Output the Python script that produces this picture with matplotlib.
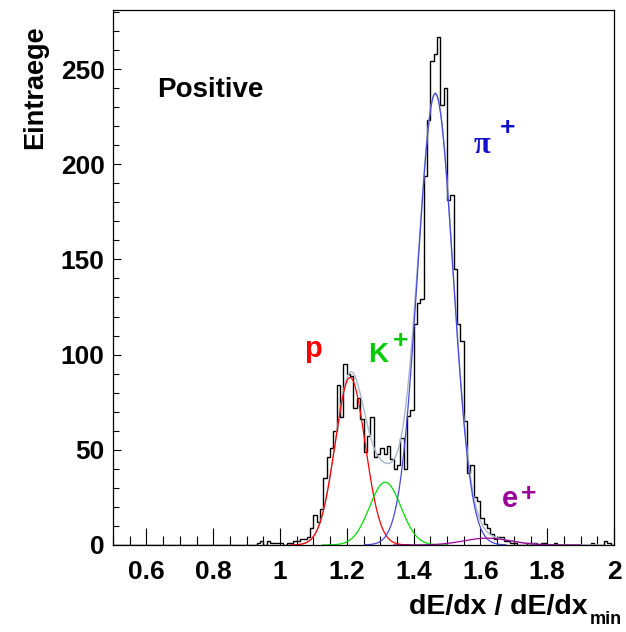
import numpy as np
import matplotlib
matplotlib.use('Agg')
import matplotlib.pyplot as plt
from matplotlib.ticker import MultipleLocator

# dE/dx spectrum of positive tracks, bins of 0.01 from 0.5 to 2.0
bin_lo = 0.5
bin_hi = 2.0
counts = [
    0, 0, 0, 0, 0, 0, 0, 0, 0, 0,          # 0.50
    0, 0, 0, 0, 0, 0, 0, 0, 0, 0,          # 0.60
    0, 0, 0, 0, 0, 0, 0, 0, 0, 0,          # 0.70
    0, 0, 0, 0, 0, 0, 0, 0, 0, 0,          # 0.80
    0, 0, 0, 1, 2, 0, 2, 1, 1, 1,          # 0.90
    1, 0, 1, 1, 2, 2, 3, 3, 4, 9,          # 1.00
    16, 12, 19, 35, 46, 51, 60, 84, 67, 95,    # 1.10
    90, 89, 72, 77, 66, 49, 57, 67, 46, 48,    # 1.20
    51, 48, 52, 45, 40, 42, 56, 40, 68, 71,    # 1.30
    116, 127, 129, 194, 223, 254, 258, 267, 231, 240,  # 1.40
    181, 184, 145, 116, 107, 65, 38, 42, 25, 23,   # 1.50
    14, 11, 9, 6, 3, 4, 4, 2, 2, 1,        # 1.60
    1, 0, 0, 0, 1, 1, 1, 0, 1, 1,          # 1.70
    0, 0, 1, 0, 0, 0, 0, 0, 0, 0,          # 1.80
    0, 0, 0, 1, 0, 0, 0, 2, 1, 0,          # 1.90
]

# gaussian fit components (p, K+, pi+, e+)
fit_names = ['p', 'K', 'pi', 'e']
fit_amp = [88, 33, 237, 3.6]
fit_mean = [1.21, 1.315, 1.465, 1.62]
fit_sigma = [0.045, 0.047, 0.053, 0.07]
fit_colors = ['#ff0000', '#00e000', '#4848dd', '#990099']
total_color = '#a8b8cc'

xticks = [0.6, 0.8, 1.0, 1.2, 1.4, 1.6, 1.8, 2.0]
xtick_labels = ['0.6', '0.8', '1', '1.2', '1.4', '1.6', '1.8', '2']
yticks = [0, 50, 100, 150, 200, 250]


def gaus(x, a, m, s):
    return a * np.exp(-0.5 * ((x - m) / s) ** 2)


plt.rcParams['font.family'] = ['Liberation Sans', 'DejaVu Sans']
plt.rcParams['font.weight'] = 'bold'

fig = plt.figure(figsize=(6.26, 6.32), dpi=100)
ax = fig.add_axes([113 / 626, 1 - 545 / 632, 501 / 626, 535 / 632])

# histogram
edges = np.linspace(bin_lo, bin_hi, len(counts) + 1)
ax.stairs(counts, edges, color='black', linewidth=1.0)

# total fit first, components on top
xt = np.linspace(1.03, 1.95, 600)
total = np.zeros_like(xt)
for a, m, s in zip(fit_amp, fit_mean, fit_sigma):
    total += gaus(xt, a, m, s)
ax.plot(xt, total, color=total_color, linewidth=1.0)

for a, m, s, c in zip(fit_amp, fit_mean, fit_sigma, fit_colors):
    xs = np.linspace(m - 4 * s, m + 4 * s, 300)
    ax.plot(xs, gaus(xs, a, m, s), color=c, linewidth=0.9)

ax.set_xlim(bin_lo, bin_hi)
ax.set_ylim(0, 281)

ax.set_xticks(xticks)
ax.set_xticklabels(xtick_labels)
ax.set_yticks(yticks)
ax.xaxis.set_minor_locator(MultipleLocator(0.05))
ax.yaxis.set_minor_locator(MultipleLocator(10))

ax.tick_params(axis='x', which='major', direction='in', length=12.5, width=0.8,
               labelsize=19, pad=11)
ax.tick_params(axis='x', which='minor', direction='in', length=6.5, width=0.8)
ax.tick_params(axis='y', which='major', direction='in', length=6, width=0.8,
               labelsize=19, pad=6)
ax.tick_params(axis='y', which='minor', direction='in', length=4, width=0.8)
for sp in ax.spines.values():
    sp.set_linewidth(0.9)

# labels
ax.text(0.633, 239, 'Positive', fontsize=20, fontweight='bold',
        ha='left', va='center')
ax.text(1.10, 103, 'p', color='#ff0000', fontsize=21, fontweight='bold',
        ha='center', va='center')
ax.text(1.295, 100, 'K', color='#00cc00', fontsize=20, fontweight='bold',
        ha='center', va='center')
ax.text(1.362, 107, '+', color='#00cc00', fontsize=19, fontweight='bold',
        ha='center', va='center')
ax.text(1.604, 210, 'π', color='#1111cc', fontsize=22, fontweight='bold',
        family=['Liberation Serif', 'DejaVu Serif'], ha='center', va='center')
ax.text(1.682, 219, '+', color='#1111cc', fontsize=19, fontweight='bold',
        ha='center', va='center')
ax.text(1.689, 24, 'e', color='#990099', fontsize=21, fontweight='bold',
        ha='center', va='center')
ax.text(1.745, 27, '+', color='#990099', fontsize=19, fontweight='bold',
        ha='center', va='center')

fig.text(35 / 626, 1 - 25 / 632, 'Eintraege', rotation=90, fontsize=19.5,
         fontweight='bold', ha='center', va='top')
fig.text(588 / 626, 1 - 607 / 632, 'dE/dx / dE/dx', fontsize=20.5,
         fontweight='bold', ha='right', va='center')
fig.text(590 / 626, 1 - 620 / 632, 'min', fontsize=13,
         fontweight='bold', ha='left', va='center')

fig.savefig('out.png', dpi=100)
